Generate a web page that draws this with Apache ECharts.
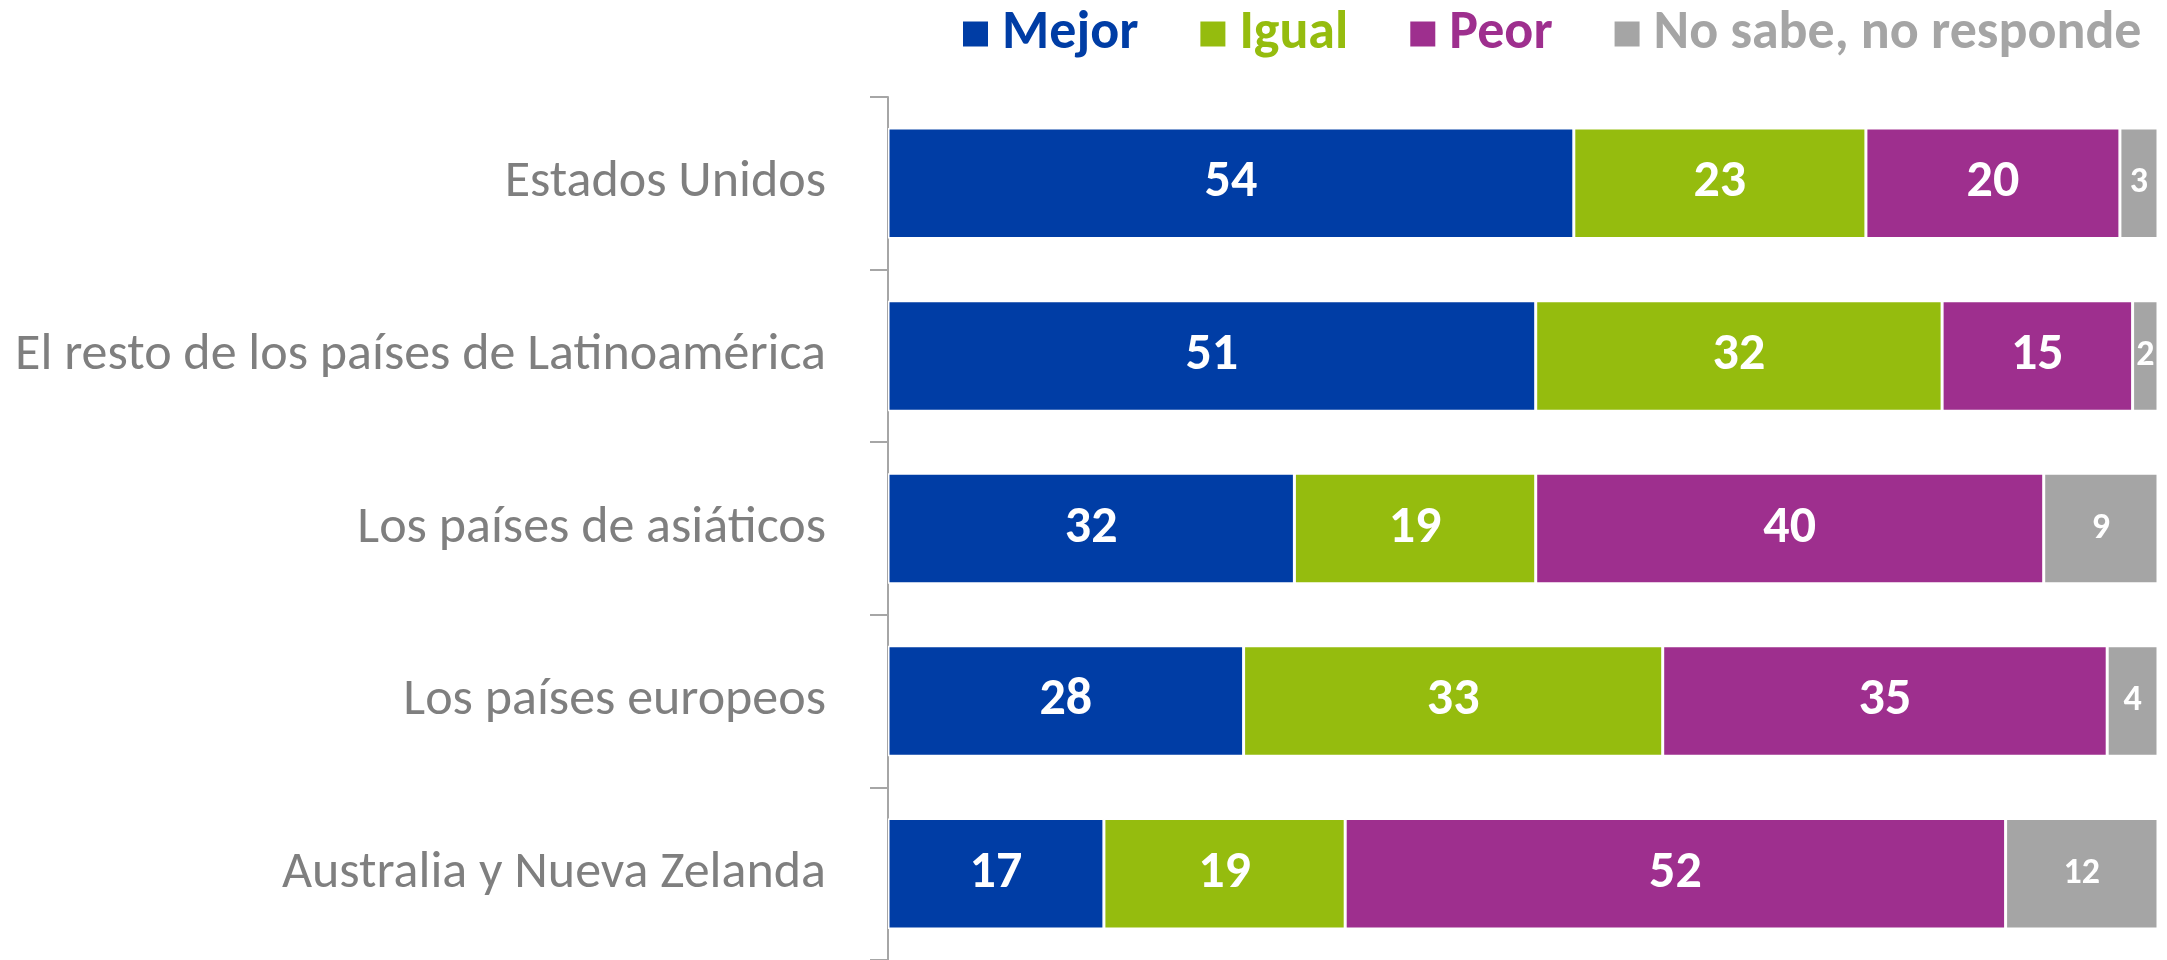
<!DOCTYPE html>
<html>
<head>
<meta charset="utf-8">
<script src="https://cdn.jsdelivr.net/npm/echarts@6/dist/echarts.min.js"></script>
<style>
  html, body { margin: 0; padding: 0; background: #fff; }
  #chart { width: 2167px; height: 960px; }
</style>
</head>
<body>
<div id="chart"></div>
<script>
  // datos (%)
  const categorias = [
    'Estados Unidos',
    'El resto de los países de Latinoamérica',
    'Los países de asiáticos',
    'Los países europeos',
    'Australia y Nueva Zelanda'
  ]
  const mejor = [54, 51, 32, 28, 17]
  const igual = [23, 32, 19, 33, 19]
  const peor = [20, 15, 40, 35, 52]
  const noSabe = [3, 2, 9, 4, 12]

  const fuente = 'Carlito, Lato, sans-serif'
  const colores = ['#003DA5', '#95BC0E', '#9E2F8E', '#A5A5A5']
  const nombres = ['Mejor', 'Igual', 'Peor', 'No sabe, no responde']
  const valores = [mejor, igual, peor, noSabe]

  const chart = echarts.init(document.getElementById('chart'))

  const series = valores.map(function (datos, i) {
    return {
      name: nombres[i],
      type: 'bar',
      stack: 'total',
      barCategoryGap: '36%',
      data: datos,
      itemStyle: {
        color: colores[i],
        borderColor: '#fff',
        borderWidth: 1.5
      },
      label: {
        show: true,
        position: 'inside',
        color: '#fff',
        fontFamily: fuente,
        fontWeight: 'bold',
        fontSize: i === 3 ? 36 : 52
      }
    }
  })

  chart.setOption({
    animation: false,
    legend: {
      left: 956,
      top: 2,
      itemWidth: 27,
      itemHeight: 27,
      itemGap: 60,
      icon: 'rect',
      data: nombres.map(function (n, i) {
        return {
          name: n,
          textStyle: {
            color: colores[i],
            fontFamily: fuente,
            fontWeight: 'bold',
            fontSize: 54,
            padding: [0, 0, 0, 8]
          }
        }
      })
    },
    grid: {
      left: 888,
      right: 9,
      top: 97,
      height: 868,
      containLabel: false
    },
    xAxis: {
      type: 'value',
      min: 0,
      max: 100,
      show: false
    },
    yAxis: {
      type: 'category',
      inverse: true,
      data: categorias,
      axisLine: { show: true, lineStyle: { color: '#a6a6a6', width: 2 } },
      axisTick: { show: true, length: 18, lineStyle: { color: '#a6a6a6', width: 2 } },
      axisLabel: {
        margin: 62,
        color: '#7f7f7f',
        fontFamily: fuente,
        fontSize: 52
      }
    },
    series: series
  })
</script>
</body>
</html>
